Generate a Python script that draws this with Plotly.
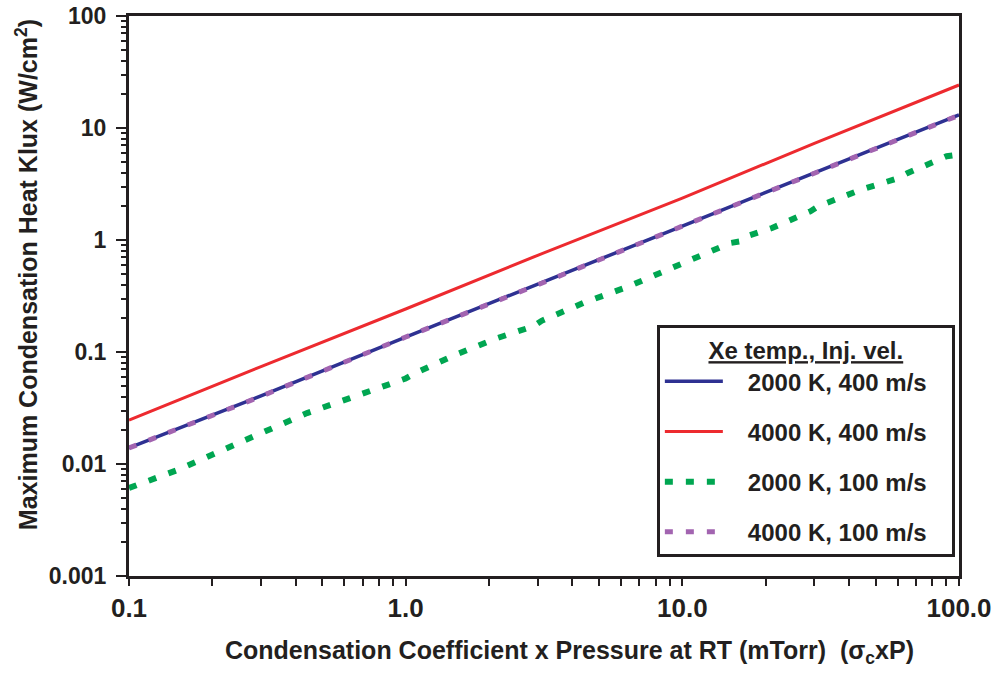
import plotly.graph_objects as go

# ---- data ----
x_common = [0.1, 0.3, 1.0, 3.0, 10.0, 30.0, 100.0]
y_2000K_400 = [0.0139, 0.0405, 0.136, 0.400, 1.33, 3.98, 13.1]
y_4000K_400 = [0.0247, 0.0740, 0.242, 0.730, 2.37, 7.30, 24.2]
y_4000K_100 = [0.0139, 0.0402, 0.136, 0.398, 1.33, 3.96, 13.0]

x_2000K_100 = [0.1, 0.149, 0.21, 0.303, 0.44, 0.629, 1.0, 1.1, 1.507, 2.14, 2.9, 3.1,
               4.38, 6.31, 8.8, 10.4, 14.9, 16.5, 17.5, 21.1, 29.0, 31.0, 43.8,
               60.0, 65.0, 90.3, 100.0]
y_2000K_100 = [0.0061, 0.0088, 0.0128, 0.0189, 0.0285, 0.0388, 0.058, 0.066, 0.094, 0.133,
               0.170, 0.190, 0.274, 0.380, 0.540, 0.636, 0.94, 0.98, 1.10, 1.28,
               1.80, 2.00, 2.79, 3.55, 3.95, 5.60, 5.80]

series_names = ["2000 K, 400 m/s", "4000 K, 400 m/s", "2000 K, 100 m/s", "4000 K, 100 m/s"]
legend_title = "Xe temp., Inj. vel."
x_title = "Condensation Coefficient x Pressure at RT (mTorr)  (σ<sub>c</sub>xP)"
y_title = "Maximum Condensation Heat Klux (W/cm<sup>2</sup>)"

x_tickvals = [0.1, 1, 10, 100]
x_ticktext = ["0.1", "1.0", "10.0", "100.0"]
y_tickvals = [0.001, 0.01, 0.1, 1, 10, 100]
y_ticktext = ["0.001", "0.01", "0.1", "1", "10", "100"]

FONT = "Liberation Sans, Arial, Helvetica, sans-serif"
INK = "#231f20"
PAD = "\u00a0\u00a0\u00a0"


def lname(s):
    return PAD + "<b>" + s + "</b>" + PAD


fig = go.Figure()
fig.add_trace(go.Scatter(x=x_common, y=y_2000K_400, mode="lines",
                         name=lname(series_names[0]), legendgroup="a",
                         line=dict(color="#2e3192", width=3.5)))
fig.add_trace(go.Scatter(x=x_common, y=y_4000K_400, mode="lines",
                         name=lname(series_names[1]), legendgroup="b",
                         line=dict(color="#ed2a2f", width=3)))
fig.add_trace(go.Scatter(x=x_2000K_100, y=y_2000K_100, mode="lines",
                         name=lname(series_names[2]), legendgroup="c",
                         line=dict(color="#00a651", width=6, dash="8px,13px")))
fig.add_trace(go.Scatter(x=x_common, y=y_4000K_100, mode="lines",
                         name=lname(series_names[3]), legendgroup="d",
                         line=dict(color="#a264b0", width=5, dash="8px,13px")))

fig.update_layout(
    width=995, height=675,
    margin=dict(l=129, r=36, t=16, b=99),
    paper_bgcolor="white", plot_bgcolor="white",
    font=dict(family=FONT, color=INK, size=20),
    showlegend=True,
    legend=dict(
        x=0.995, y=0.034, xanchor="right", yanchor="bottom",
        bgcolor="white", bordercolor=INK, borderwidth=3,
        font=dict(family=FONT, size=24, color=INK),
        title=dict(text="<b><u>" + legend_title + "</u></b>", side="top center",
                   font=dict(family=FONT, size=24, color=INK)),
        tracegroupgap=16, itemwidth=58,
    ),
    xaxis=dict(
        type="log", range=[-1, 2], automargin=False,
        tickvals=x_tickvals, ticktext=["<b>%s</b>" % t for t in x_ticktext],
        ticks="outside", ticklen=7, tickwidth=2, tickcolor=INK,
        ticklabeloverflow="allow",
        showline=True, linewidth=3, linecolor=INK, mirror=True,
        showgrid=False, zeroline=False,
        tickfont=dict(family=FONT, size=26, color=INK),
        minor=dict(ticks="outside", ticklen=7, tickwidth=2, tickcolor=INK,
                   dtick="D1", showgrid=False),
    ),
    yaxis=dict(
        type="log", range=[-3, 2], automargin=False,
        tickvals=y_tickvals, ticktext=["<b>%s</b>" % t for t in y_ticktext],
        ticks="outside", ticklen=10, tickwidth=2, tickcolor=INK,
        ticklabelstandoff=5, ticklabeloverflow="allow",
        showline=True, linewidth=3, linecolor=INK, mirror=True,
        showgrid=False, zeroline=False,
        tickfont=dict(family=FONT, size=23, color=INK),
        minor=dict(ticks="outside", ticklen=5, tickwidth=2, tickcolor=INK,
                   dtick="D1", showgrid=False),
    ),
    annotations=[
        dict(text="<b>" + x_title + "</b>", xref="paper", yref="paper",
             x=0.531, y=-0.136, xanchor="center", yanchor="middle", showarrow=False,
             font=dict(family=FONT, size=25, color=INK)),
        dict(text="<b>" + y_title + "</b>", xref="paper", yref="paper",
             x=-0.1229, y=0.539, xanchor="center", yanchor="middle", showarrow=False,
             textangle=-90, font=dict(family=FONT, size=25, color=INK)),
    ],
)

# remove the browser's default 8px body margin so the figure fills the window
fig.write_html("out.html",
               config={"displayModeBar": False},
               post_script="document.body.style.margin='0';document.body.style.overflow='hidden';")
